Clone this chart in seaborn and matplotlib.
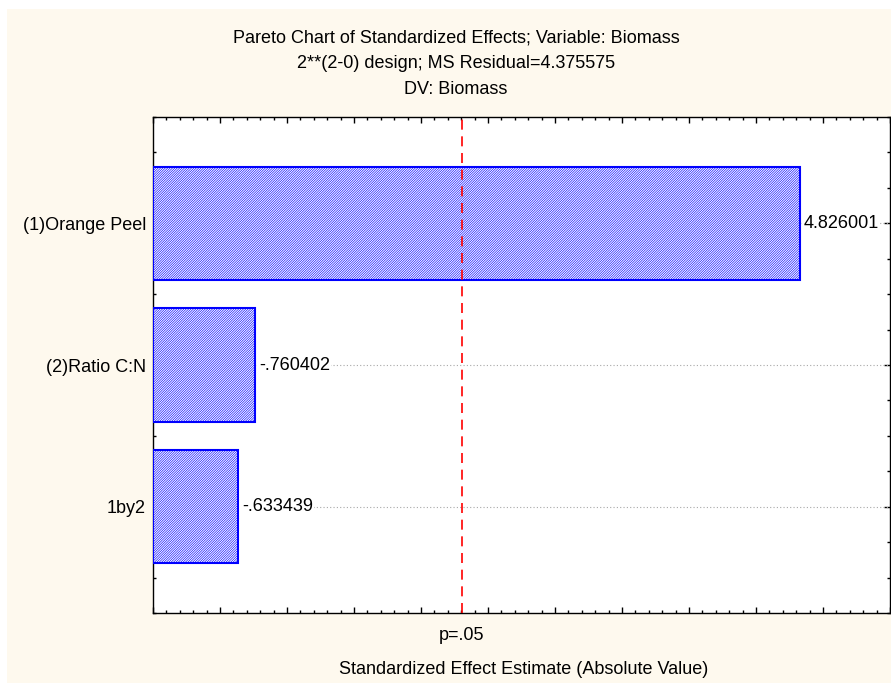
import matplotlib
matplotlib.use("Agg")
import matplotlib.pyplot as plt
import matplotlib.patches as mpatches
import matplotlib.transforms as mtransforms
from matplotlib.ticker import MultipleLocator, FixedLocator, NullFormatter
import numpy as np
import pandas as pd
import seaborn as sns

# ---- data ----
factors = ['(1)Orange Peel', '(2)Ratio C:N', '1by2']
effects = [4.826001, -0.760402, -0.633439]
crit_value = 2.306
crit_label = 'p=.05'
title_lines = ['Pareto Chart of Standardized Effects; Variable: Biomass',
               '2**(2-0) design; MS Residual=4.375575',
               'DV: Biomass']
xlabel = 'Standardized Effect Estimate (Absolute Value)'

def fmt(v):
    s = f"{v:.6f}"
    if s.startswith('0.'):
        s = s[1:]
    elif s.startswith('-0.'):
        s = '-' + s[2:]
    return s

df = pd.DataFrame({'factor': factors, 'effect': effects})
df['abs_effect'] = df['effect'].abs()

sns.set_theme(style='white')
plt.rcParams['font.family'] = ['Liberation Sans', 'DejaVu Sans']
plt.rcParams['hatch.color'] = 'blue'
plt.rcParams['hatch.linewidth'] = 0.45

FS = 13
W, H = 891, 683
fig = plt.figure(figsize=(W / 100, H / 100), dpi=100, facecolor='white')
# cream panel
bg = mpatches.Rectangle((7 / W, 0), 1 - 7 / W, 1 - 9 / H,
                        transform=fig.transFigure,
                        facecolor='#FEF9EE', edgecolor='none', zorder=-10)
fig.patches.append(bg)

ax = fig.add_axes([153 / W, 1 - 613 / H, (890 - 153) / W, (613 - 117) / H])
ax.set_zorder(1)
ax.set_facecolor('white')

sns.barplot(data=df, x='abs_effect', y='factor', orient='h', ax=ax,
            color='white', edgecolor='blue', linewidth=1.5, hatch='/' * 14,
            width=0.8, zorder=3)

ax.set_xlim(0, 5.5)
ax.set_ylim(2.75, -0.75)

# gridlines at category centres
ax.set_axisbelow(True)
for i in range(len(factors)):
    ax.axhline(i, color='#a8a8a8', linestyle=(0, (1, 2)), lw=0.8, zorder=1)

ax.axvline(crit_value, color='red', linestyle=(0, (6, 4)), lw=1.2, zorder=4)

for i, (a, v) in enumerate(zip(df['abs_effect'], df['effect'])):
    ax.text(a + 0.03, i, fmt(v), va='center', ha='left', fontsize=FS, color='black',
            zorder=5, bbox=dict(facecolor='white', edgecolor='none', pad=1.0))

# ticks
ax.xaxis.set_major_locator(MultipleLocator(0.5))
ax.xaxis.set_minor_locator(MultipleLocator(0.1))
ax.xaxis.set_major_formatter(NullFormatter())
ax.yaxis.set_minor_locator(FixedLocator(np.arange(-0.75, 2.76, 0.25)))
ax.tick_params(axis='both', which='major', direction='in', length=4.5, width=1,
               color='black', top=True, right=True, bottom=True, left=True)
ax.tick_params(axis='both', which='minor', direction='in', length=2.5, width=1,
               color='black', top=True, right=True, bottom=True, left=True)
ax.tick_params(axis='y', which='major', labelsize=FS, labelcolor='black', pad=5)
ax.set_xlabel('')
ax.set_ylabel('')

for sp in ax.spines.values():
    sp.set_visible(True)
    sp.set_color('black')
    sp.set_linewidth(1.0)

trans = mtransforms.blended_transform_factory(ax.transData, fig.transFigure)
ax.text(crit_value, 1 - 636 / H, crit_label, transform=trans, ha='center',
        va='center', fontsize=FS, color='black')

fig.text(524 / W, 1 - 669 / H, xlabel, ha='center', va='center',
         fontsize=FS, color='black')

for k, line in enumerate(title_lines):
    fig.text(456 / W, 1 - (38 + 26 * k) / H, line, ha='center', va='center',
             fontsize=FS, color='black')

fig.savefig('out.png', dpi=100, facecolor=fig.get_facecolor())
